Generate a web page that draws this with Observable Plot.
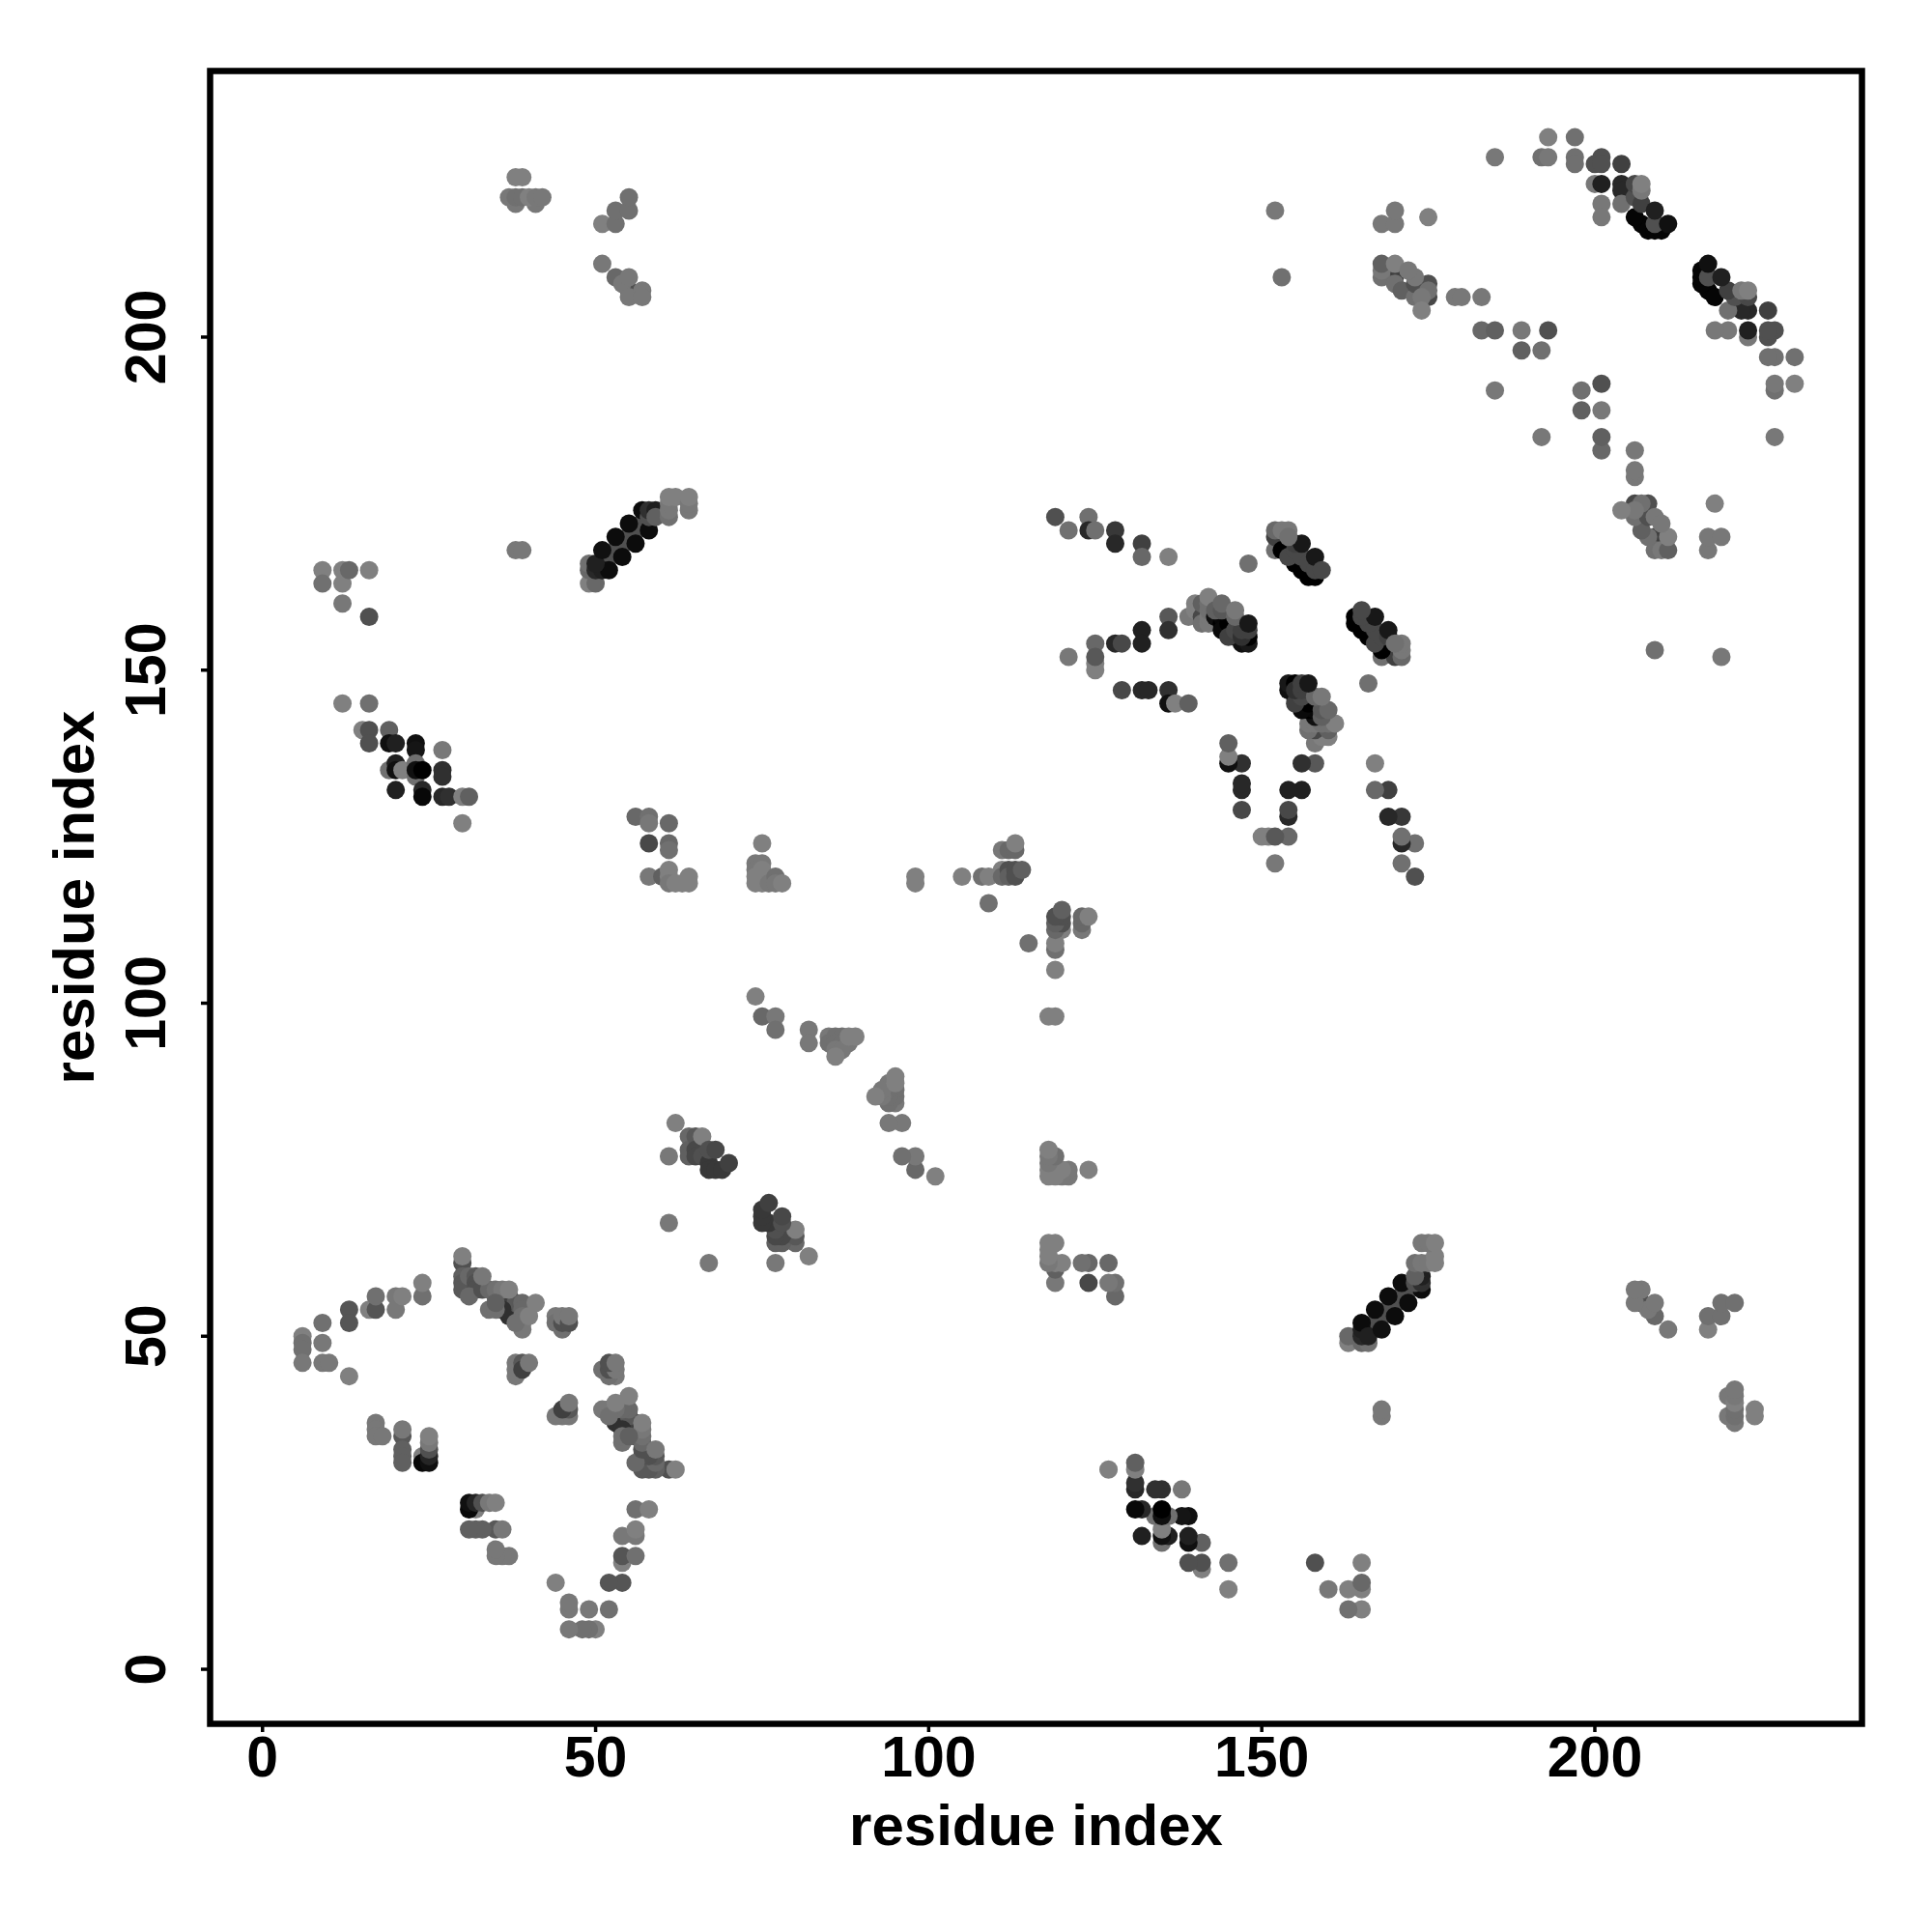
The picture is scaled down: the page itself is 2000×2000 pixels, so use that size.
<!DOCTYPE html>
<html>
<head>
<meta charset="utf-8">
<style>html,body{margin:0;padding:0;background:#fff}</style>
<script src="https://cdn.jsdelivr.net/npm/d3@7"></script>
<script src="https://cdn.jsdelivr.net/npm/@observablehq/plot@0.6"></script>
</head>
<body>
<script>
// Each entry: [residue i, residue j, grey level]; the map is symmetric, so only i<j is listed.
const arc = [[6,50,0x80],[6,49,0x70],[6,48,0x70],[6,46,0x78],[9,52,0x70],[9,49,0x78],[9,46,0x78],[10,46,0x78],[13,54,0x55],[13,52,0x55],[13,44,0x80],[16,54,0x80],[17,54,0x55],[17,56,0x70],[20,56,0x78],[20,54,0x78],[21,56,0x80],[24,56,0x70],[24,58,0x80]];
const lowerLeft = [[17,37,0x78],[17,36,0x78],[17,35,0x78],[18,35,0x78],[21,35,0x58],[21,36,0x78],[21,33,0x60],[21,32,0x60],[21,31,0x60],[24,32,0x80],[24,31,0x08],[25,31,0x10],[25,32,0x25],[25,33,0x50],[25,34,0x78],[25,35,0x80]];
const mainA = [[31,58,0x40],[30,61,0x50],[30,59,0x60],[30,58,0x58],[30,57,0x58],[31,59,0x68],[32,59,0x58],[32,58,0x50],[32,57,0x50],[31,56,0x68],[33,57,0x50],[35,56,0x50],[36,56,0x40],[36,55,0x40],[37,55,0x30],[37,53,0x30],[38,53,0x20],[38,54,0x40],[37,54,0x30],[37,56,0x40],[38,55,0x58],[36,54,0x30],[34,57,0x68],[35,57,0x70],[36,57,0x78],[37,57,0x80],[34,54,0x70],[35,54,0x70],[35,55,0x60],[39,55,0x68],[39,54,0x68],[39,53,0x70],[39,52,0x70],[39,51,0x78],[38,52,0x70],[33,59,0x78],[30,62,0x80],[41,55,0x80],[40,53,0x80]];
const smallA = [[38,46,0x78],[38,45,0x78],[38,44,0x78],[39,46,0x58],[39,45,0x40],[40,46,0x78],[44,53,0x78],[44,52,0x70],[45,51,0x70],[45,52,0x50],[45,53,0x78],[46,52,0x50],[46,53,0x78]];
const topLeft = [[38,224,0x80],[39,224,0x80],[38,220,0x78],[41,220,0x78],[37,221,0x78],[38,221,0x70],[39,221,0x70],[40,221,0x80],[41,221,0x78],[42,221,0x78],[51,217,0x80],[53,217,0x70],[53,219,0x70],[55,219,0x70],[55,221,0x70],[51,211,0x78],[53,209,0x68],[55,207,0x50],[54,208,0x78],[55,209,0x78],[55,206,0x78],[57,207,0x78],[57,206,0x78]];
const helixA = [[49,163,0x80],[50,163,0x68],[49,165,0x68],[49,166,0x70],[51,166,0x50],[53,168,0x50],[55,170,0x50],[57,172,0x50],[52,167,0x50],[54,169,0x50],[56,171,0x50],[50,165,0x28],[51,165,0x20],[52,165,0x0c],[54,167,0x0c],[56,169,0x0c],[58,171,0x0c],[50,166,0x20],[51,168,0x10],[53,170,0x0c],[55,172,0x0c],[57,174,0x0c],[58,173,0x50],[58,174,0x30],[59,174,0x20],[59,173,0x60],[61,173,0x70],[61,174,0x78],[61,175,0x78],[61,176,0x80],[62,176,0x80],[64,174,0x78],[64,175,0x78],[64,176,0x80],[38,168,0x78],[39,168,0x78]];
const leftGroup = [[9,165,0x80],[9,163,0x70],[12,163,0x80],[12,165,0x80],[13,165,0x68],[16,165,0x80],[12,160,0x78],[16,158,0x50],[12,145,0x80],[16,145,0x70],[15,141,0x80],[16,141,0x50],[16,139,0x50],[19,141,0x60],[19,139,0x10],[20,139,0x20],[23,139,0x10],[23,138,0x15],[27,138,0x78],[19,135,0x70],[20,136,0x20],[20,135,0x10],[21,135,0x80],[23,136,0x70],[23,134,0x70],[23,135,0x10],[24,135,0x00],[27,135,0x30],[27,134,0x30],[20,132,0x20],[24,132,0x28],[24,131,0x08],[27,131,0x28],[28,131,0x30],[30,131,0x80],[31,131,0x60],[30,127,0x80]];
const midA = [[56,128,0x68],[58,128,0x70],[58,127,0x78],[61,127,0x68],[58,124,0x48],[61,124,0x68],[61,123,0x70],[58,119,0x78],[60,119,0x60],[61,120,0x80],[61,119,0x80],[61,118,0x78],[62,118,0x80],[63,118,0x80],[64,119,0x80],[64,118,0x80],[75,124,0x80],[74,121,0x78],[75,121,0x78],[74,120,0x78],[75,120,0x80],[74,119,0x80],[74,118,0x80],[75,118,0x80],[76,118,0x78],[77,119,0x70],[77,118,0x78],[78,118,0x80],[98,119,0x80],[98,118,0x80],[105,119,0x80],[108,119,0x70],[109,119,0x80],[109,115,0x70],[111,123,0x78],[112,123,0x68],[113,123,0x68],[113,124,0x80],[111,120,0x80],[111,119,0x68],[112,120,0x50],[112,119,0x60],[113,120,0x50],[113,119,0x50],[114,120,0x60]];
const diagA = [[74,101,0x80],[75,98,0x68],[77,98,0x78],[77,96,0x70],[82,96,0x78],[82,94,0x78],[85,95,0x78],[85,94,0x70],[86,95,0x70],[87,95,0x70],[86,94,0x70],[87,94,0x70],[88,94,0x78],[86,93,0x78],[87,93,0x78],[86,92,0x80],[88,95,0x80],[89,95,0x80]];
const diagB = [[62,82,0x80],[61,77,0x78],[61,67,0x78],[64,80,0x68],[64,78,0x60],[64,77,0x60],[65,80,0x58],[65,78,0x48],[65,77,0x48],[66,80,0x80],[66,77,0x50],[67,76,0x38],[67,78,0x50],[67,75,0x38],[68,75,0x38],[69,75,0x38],[68,78,0x48],[70,76,0x40]];
const upperMid = [[119,173,0x50],[121,171,0x70],[124,173,0x70],[124,171,0x28],[125,171,0x70],[128,171,0x38],[128,169,0x28],[132,169,0x40],[132,167,0x68],[136,167,0x80],[148,166,0x70],[121,152,0x78],[125,154,0x68],[125,150,0x80],[125,151,0x80],[125,152,0x58],[128,154,0x28],[129,154,0x48],[132,156,0x20],[132,154,0x20],[136,158,0x58],[136,156,0x30],[129,147,0x48],[132,147,0x28],[133,147,0x28],[136,147,0x30],[136,145,0x10],[137,145,0x80],[139,145,0x60]];
const clusterC = [[139,158,0x78],[140,159,0x80],[140,160,0x80],[141,158,0x48],[141,160,0x60],[141,157,0x70],[142,157,0x78],[142,158,0x78],[142,159,0x70],[142,160,0x70],[142,161,0x80],[143,158,0x10],[144,157,0x00],[145,156,0x00],[146,155,0x00],[147,154,0x10],[148,154,0x18],[148,155,0x00],[144,158,0x08],[144,156,0x0a],[145,157,0x00],[145,155,0x40],[146,156,0x48],[147,155,0x30],[147,156,0x40],[143,159,0x60],[144,159,0x58],[144,160,0x68],[146,158,0x68],[146,159,0x78],[148,156,0x40],[148,157,0x18]];
const clusterD = [[152,168,0x70],[153,170,0x50],[152,170,0x40],[153,168,0x00],[155,166,0x00],[156,165,0x00],[157,164,0x00],[158,164,0x00],[154,167,0x48],[155,168,0x48],[156,167,0x48],[157,166,0x48],[158,165,0x48],[155,169,0x40],[156,169,0x18],[158,167,0x18],[159,165,0x48],[152,171,0x68],[153,171,0x78],[154,171,0x78],[154,170,0x70]];
const clusterF = [[152,219,0x78],[153,209,0x70],[168,217,0x78],[170,217,0x78],[170,219,0x78],[175,218,0x80],[170,209,0x40],[168,209,0x70],[168,210,0x78],[168,211,0x60],[170,208,0x70],[171,207,0x60],[173,206,0x70],[175,208,0x50],[173,208,0x50],[175,206,0x48],[175,207,0x70],[174,206,0x78],[174,204,0x80],[170,211,0x80],[173,209,0x78],[172,210,0x78],[179,206,0x78],[180,206,0x78],[183,206,0x78],[183,201,0x68],[185,201,0x60],[189,201,0x78],[193,201,0x50],[189,198,0x60],[192,198,0x70],[185,192,0x78],[185,227,0x78]];
const clusterG = [[192,227,0x70],[193,227,0x78],[193,230,0x80],[197,230,0x70],[197,227,0x70],[197,226,0x70],[201,227,0x50],[200,226,0x50],[201,226,0x50],[204,226,0x40],[200,223,0x78],[201,223,0x20],[204,223,0x28],[204,222,0x28],[201,220,0x78],[201,218,0x78],[204,220,0x70],[207,217,0x05],[208,216,0x05],[209,216,0x05],[210,216,0x05],[206,218,0x05],[209,217,0x50],[206,221,0x50],[207,220,0x40],[209,219,0x20],[211,217,0x10],[206,223,0x48],[207,222,0x78],[207,223,0x80]];

const ticks = [0, 50, 100, 150, 200];
const axisTitle = ["residue index"];
const groups = [lowerLeft, arc, mainA, smallA, topLeft, helixA, leftGroup, midA, diagA, diagB, upperMid, clusterC, clusterD, clusterF, clusterG];

const upper = groups.flat().map(([x, y, g]) => ({x, y, g}));
const lower = upper.map(({x, y, g}) => ({x: y, y: x, g}));
const contacts = [...upper, ...lower];

const chart = Plot.plot({
  width: 2000,
  height: 2000,
  marginLeft: 217,
  marginRight: 73,
  marginTop: 73,
  marginBottom: 216,
  x: {domain: [-7.87, 240.1]},
  y: {domain: [-8.19, 239.95]},
  color: {type: "linear", domain: [0, 255], range: ["#000000", "#ffffff"]},
  style: {fontFamily: "'Liberation Sans', Arial, sans-serif", fontWeight: "bold", background: "white", color: "black"},
  marks: [
    Plot.dot(contacts, {x: "x", y: "y", r: 9.5, fill: "g", stroke: "none"}),
    Plot.frame({stroke: "black", strokeWidth: 6.5}),
    Plot.axisX({ticks, tickSize: 9, tickPadding: 4, strokeWidth: 3.5, fontSize: 59, label: null, tickFormat: d => String(d)}),
    Plot.axisY({ticks, tickSize: 9, tickPadding: 38, strokeWidth: 3.5, fontSize: 59, label: null, tickRotate: -90, tickFormat: d => String(d)}),
    Plot.text(axisTitle, {text: d => d, frameAnchor: "bottom", dy: 125, fontSize: 60, fontWeight: "bold", fill: "black"}),
    Plot.text(axisTitle, {text: d => d, frameAnchor: "left", textAnchor: "middle", dx: -140, rotate: -90, fontSize: 60, fontWeight: "bold", fill: "black"})
  ]
});
document.body.appendChild(chart);
</script>
</body>
</html>
